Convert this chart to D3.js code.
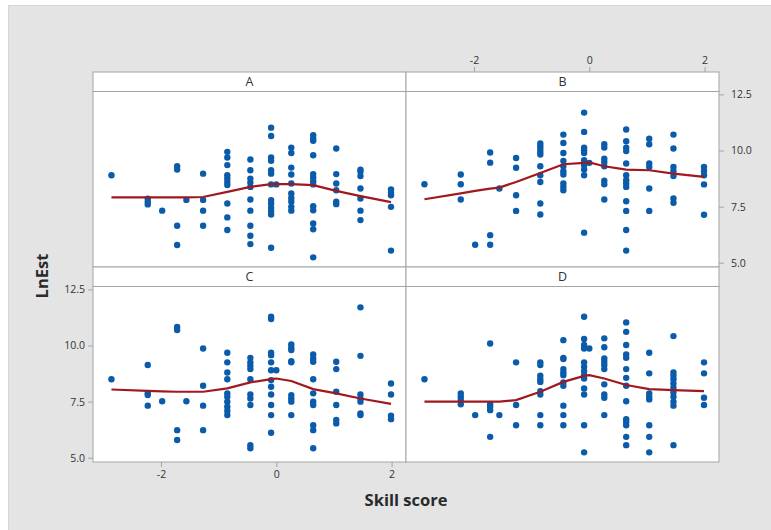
<!DOCTYPE html>
<html>
<head>
<meta charset="utf-8">
<script src="https://cdn.jsdelivr.net/npm/d3@7"></script>
<style>
  body { margin: 0; background: #fff; }
  .graph text { font-family: "Open Sans", "Noto Sans", sans-serif; }
</style>
</head>
<body>
<div class="graph"></div>
<script>
// skill score levels (x) shared by every panel
let skillLevels = [-2.86, -2.23, -1.98, -1.72, -1.56, -1.27, -0.85, -0.45, -0.09, 0.0, 0.26, 0.64, 1.04, 1.46, 1.99];
let panelNames = ["A", "B", "C", "D"];
let xTicks = [-2, 0, 2];
let yTicks = [5.0, 7.5, 10.0, 12.5];

// LnEst values per skill level
let lnEstA = [
  [8.9],
  [7.85, 7.72, 7.6],
  [7.32],
  [9.3, 9.15, 6.65, 5.79],
  [7.8],
  [8.97, 7.8, 7.32, 6.65],
  [9.94, 9.69, 9.35, 8.9, 8.75, 8.6, 8.46, 7.64, 7.02, 6.46],
  [9.6, 9.12, 8.75, 8.57, 8.38, 7.82, 7.32, 6.65, 6.2, 5.83],
  [11.02, 10.65, 9.69, 9.54, 9.12, 8.97, 8.49, 7.79, 7.64, 7.45, 7.3, 7.15, 5.67],
  [8.49],
  [10.13, 9.89, 9.24, 8.93, 8.53, 8.09, 7.89, 7.72, 7.49, 7.32],
  [10.68, 10.53, 10.43, 9.79, 8.95, 8.8, 8.63, 8.49, 7.52, 7.34, 6.75, 6.49, 5.24],
  [10.09, 8.95, 8.53, 8.23, 7.72, 7.61],
  [9.15, 9.05, 8.86, 8.31, 7.86, 7.32, 6.9],
  [8.27, 8.13, 8.01, 7.49, 5.54]
];
let lnEstB = [
  [8.5],
  [8.93, 8.5, 7.82],
  [5.8],
  [9.91, 9.46, 6.23, 5.8],
  [8.31],
  [9.67, 9.23, 8.01, 7.31],
  [10.31, 10.19, 10.07, 9.94, 9.82, 9.3, 8.9, 8.6, 7.64, 7.15],
  [10.71, 10.34, 9.89, 9.54, 9.3, 9.08, 8.93, 8.53, 8.38, 8.23],
  [11.69, 10.83, 10.13, 10.01, 9.89, 9.57, 9.45, 9.34, 9.15, 8.9, 6.34],
  [9.45],
  [10.28, 10.13, 9.64, 9.49, 9.3, 8.65, 8.5, 7.82],
  [10.94, 10.41, 10.13, 9.98, 9.42, 8.9, 8.68, 8.53, 8.38, 7.74, 7.31, 6.46, 5.54],
  [10.53, 10.28, 9.42, 9.27, 8.31, 7.31],
  [10.71, 10.09, 9.27, 9.09, 8.86, 7.86, 7.67],
  [9.27, 9.09, 8.9, 8.49, 7.14]
];
let lnEstC = [
  [8.5],
  [9.13, 7.87, 7.79, 7.32],
  [7.52],
  [10.83, 10.69, 6.23, 5.79],
  [7.52],
  [9.87, 8.21, 7.32, 6.23],
  [9.68, 9.25, 8.8, 8.5, 7.87, 7.72, 7.5, 7.27, 7.08, 6.9],
  [9.45, 9.25, 9.1, 8.95, 8.5, 7.82, 7.64, 7.35, 5.56, 5.42],
  [11.28, 11.18, 9.68, 9.57, 9.25, 8.9, 8.46, 8.16, 7.82, 7.35, 6.9, 6.11],
  [8.9],
  [10.05, 9.9, 9.8, 9.3, 9.25, 7.79, 7.64, 7.5, 6.9],
  [9.6, 9.42, 9.28, 8.5, 7.87, 7.5, 7.35, 6.45, 6.23, 5.42],
  [9.28, 8.95, 7.94, 7.35, 6.68, 6.53],
  [11.7, 9.54, 7.82, 7.64, 7.5, 6.97, 6.9],
  [8.31, 7.82, 6.87, 6.72]
];
let lnEstD = [
  [8.5],
  [7.87, 7.72, 7.57, 7.38],
  [6.9],
  [10.09, 7.38, 7.27, 7.12, 5.93],
  [6.9],
  [9.25, 7.35, 6.45],
  [9.25, 9.13, 8.65, 8.5, 8.38, 7.97, 7.82, 6.9, 6.45],
  [10.24, 9.45, 9.4, 8.95, 8.8, 8.68, 8.36, 8.21, 7.32, 6.9, 6.45],
  [11.28, 10.29, 10.02, 9.87, 9.25, 9.05, 8.86, 8.68, 8.53, 8.09, 7.82, 6.45, 5.24],
  [9.87],
  [10.32, 9.92, 9.42, 9.28, 9.13, 8.95, 8.27, 7.82, 7.67, 6.9],
  [11.03, 10.61, 10.02, 9.6, 9.45, 8.95, 8.56, 8.21, 7.52, 6.72, 6.6, 6.45, 5.93, 5.56],
  [9.68, 8.76, 7.87, 7.72, 7.6, 6.45, 5.93, 5.24],
  [10.42, 8.8, 8.65, 8.5, 8.31, 8.12, 7.91, 7.72, 7.5, 7.32, 5.56],
  [9.25, 8.76, 7.67, 7.35]
];

// smoother line read at each skill level
let fitA = [7.91, 7.91, 7.91, 7.91, 7.91, 7.93, 8.16, 8.38, 8.5, 8.5, 8.5, 8.46, 8.2, 7.97, 7.7];
let fitB = [7.83, 8.09, 8.2, 8.3, 8.35, 8.6, 9.0, 9.39, 9.45, 9.47, 9.3, 9.15, 9.12, 8.97, 8.83];
let fitC = [8.04, 7.98, 7.96, 7.94, 7.94, 7.94, 8.09, 8.36, 8.5, 8.53, 8.42, 8.06, 7.87, 7.64, 7.4];
let fitD = [7.5, 7.5, 7.5, 7.5, 7.5, 7.57, 7.94, 8.38, 8.65, 8.68, 8.53, 8.24, 8.06, 8.01, 7.97];

let lnEstAll = [lnEstA, lnEstB, lnEstC, lnEstD];
let fitAll = [fitA, fitB, fitC, fitD];

let W = 771;
let H = 530;
let gridLeft = 93;
let gridTop = 72;
let cellW = 313;
let rowH = 195;
let stripH = 19.5;
let plotH = rowH - stripH;
let frame = "#a4a4a4";
let textCol = "#333";

let svg = d3
  .select(".graph")
  .append("svg")
  .attr("width", W)
  .attr("height", H);

svg
  .append("rect")
  .attr("x", 8.5)
  .attr("y", 5.5)
  .attr("width", W - 8)
  .attr("height", H - 5)
  .style("fill", "#e4e4e4")
  .style("stroke", "#d6d6d6");

let xScale = d3.scaleLinear().domain([-3.18, 2.25]).range([0, cellW]);
let yScale = d3.scaleLinear().domain([4.81, 12.63]).range([plotH, 0]);

let fitLine = d3
  .line()
  .x(function (d, i) {
    return xScale(skillLevels[i]);
  })
  .y(function (d) {
    return yScale(d);
  });

panelNames.forEach(function (name, p) {
  let col = p % 2;
  let row = Math.floor(p / 2);
  let g = svg
    .append("g")
    .attr("transform", "translate(" + (gridLeft + col * cellW) + "," + (gridTop + row * rowH) + ")");

  g.append("rect")
    .attr("width", cellW)
    .attr("height", stripH)
    .style("fill", "#fff")
    .style("stroke", frame);
  g.append("text")
    .attr("x", cellW / 2)
    .attr("y", stripH / 2)
    .attr("dy", "0.36em")
    .attr("text-anchor", "middle")
    .style("font-size", "12.5px")
    .style("fill", textCol)
    .text(name);

  let body = g.append("g").attr("transform", "translate(0," + stripH + ")");
  body
    .append("rect")
    .attr("width", cellW)
    .attr("height", plotH)
    .style("fill", "#fff")
    .style("stroke", frame);

  let pts = [];
  lnEstAll[p].forEach(function (vals, i) {
    vals.forEach(function (v) {
      pts.push([skillLevels[i], v]);
    });
  });

  body
    .selectAll("circle")
    .data(pts)
    .enter()
    .append("circle")
    .attr("cx", function (d) {
      return xScale(d[0]);
    })
    .attr("cy", function (d) {
      return yScale(d[1]);
    })
    .attr("r", 3.2)
    .style("fill", "#0b5bab");

  body
    .append("path")
    .datum(fitAll[p])
    .attr("d", fitLine)
    .style("fill", "none")
    .style("stroke", "#a0191e")
    .style("stroke-width", 2.2);
});

function styleAxis(g) {
  g.select(".domain").remove();
  g.selectAll(".tick line").style("stroke", frame);
  g.selectAll(".tick text")
    .style("fill", textCol)
    .style("font-size", "10.5px")
    .style("font-family", '"Open Sans", sans-serif');
}

let fmtX = function (d) {
  return String(d);
};

svg
  .append("g")
  .attr("transform", "translate(" + (gridLeft + cellW) + "," + gridTop + ")")
  .call(d3.axisTop(xScale).tickValues(xTicks).tickFormat(fmtX).tickSize(5).tickPadding(3))
  .call(styleAxis);

svg
  .append("g")
  .attr("transform", "translate(" + gridLeft + "," + (gridTop + 2 * rowH) + ")")
  .call(d3.axisBottom(xScale).tickValues(xTicks).tickFormat(fmtX).tickSize(5).tickPadding(4))
  .call(styleAxis);

svg
  .append("g")
  .attr("transform", "translate(" + (gridLeft + 2 * cellW) + "," + (gridTop + stripH) + ")")
  .call(d3.axisRight(yScale).tickValues(yTicks).tickFormat(d3.format(".1f")).tickSize(5).tickPadding(7))
  .call(styleAxis);

svg
  .append("g")
  .attr("transform", "translate(" + gridLeft + "," + (gridTop + rowH + stripH) + ")")
  .call(d3.axisLeft(yScale).tickValues(yTicks).tickFormat(d3.format(".1f")).tickSize(5).tickPadding(3))
  .call(styleAxis);

svg
  .append("text")
  .attr("x", gridLeft + cellW)
  .attr("y", 500)
  .attr("dy", "0.36em")
  .attr("text-anchor", "middle")
  .style("font-size", "16.5px")
  .style("font-weight", "bold")
  .style("fill", "#2a2a2a")
  .text("Skill score");

svg
  .append("text")
  .attr("transform", "translate(42," + (gridTop + rowH + 9) + ") rotate(-90)")
  .attr("dy", "0.36em")
  .attr("text-anchor", "middle")
  .style("font-size", "16.5px")
  .style("font-weight", "bold")
  .style("fill", "#2a2a2a")
  .text("LnEst");
</script>
</body>
</html>
